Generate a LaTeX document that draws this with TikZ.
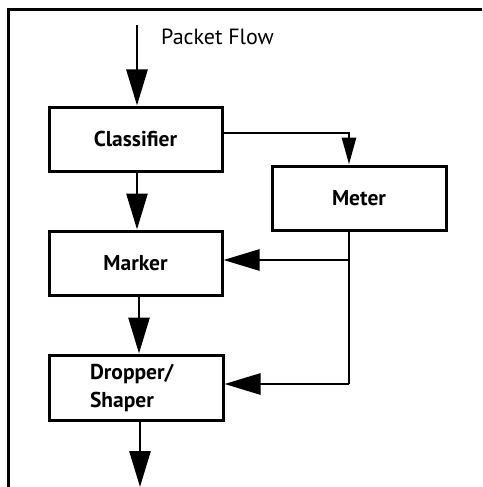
\documentclass[tikz,border=0pt]{standalone}
\usepackage{fontspec}
\setmainfont{PT Sans}
\usetikzlibrary{arrows.meta}
\begin{document}
\begin{tikzpicture}[x=1pt,y=-1pt,
  box/.style={draw,line width=3pt,minimum width=#1,minimum height=64pt,inner sep=0pt,
    font=\fontsize{21.5}{26}\selectfont\bfseries},
  flow/.style={line width=2.8pt,-{Triangle[length=36pt,width=21pt]}},
  tap/.style={line width=2.8pt,-{Triangle[length=27pt,width=14pt]}},
  wire/.style={line width=2.8pt}]
\useasboundingbox (0,0) rectangle (482,487);
% open frame: top and left edges only
\draw[line width=3pt] (8,487) -- (8,10) -- (482,10);

\node[box=173pt] (cls) at (135.5,139) {Classifier};
\node[box=174pt] (meter) at (359,198) {Meter};
\node[box=173pt] (mark) at (135.5,263) {Marker};
\node[box=174pt,minimum height=65pt,text width=92pt,align=left,
  font=\fontsize{21.5}{28}\selectfont\bfseries] (drop) at (136,387.5) {Dropper/\\Shaper};

\node[anchor=base west,font=\fontsize{22}{24}\selectfont,inner sep=0pt] (lbl) at (161,45) {Packet Flow};

\coordinate (in) at (137,25);
\coordinate (out) at (140,487);
\coordinate (j1) at (349,260);
\coordinate (j2) at (349,384);

\draw[flow] (in) -- (in |- cls.north);
\draw[flow] (cls.south -| in) -- (in |- mark.north);
\draw[flow] (mark.south -| 139,0) -- (139,0 |- drop.north);
\draw[flow] (drop.south -| out) -- (out);

\draw[tap] ([yshift=6pt]cls.east) -| (j1 |- meter.north);
\draw[wire] (j1 |- meter.south) -- (j2);
\draw[flow] (j1) -- (j1 -| mark.east);
\draw[flow] (j2) -- (j2 -| drop.east);
\end{tikzpicture}
\end{document}
